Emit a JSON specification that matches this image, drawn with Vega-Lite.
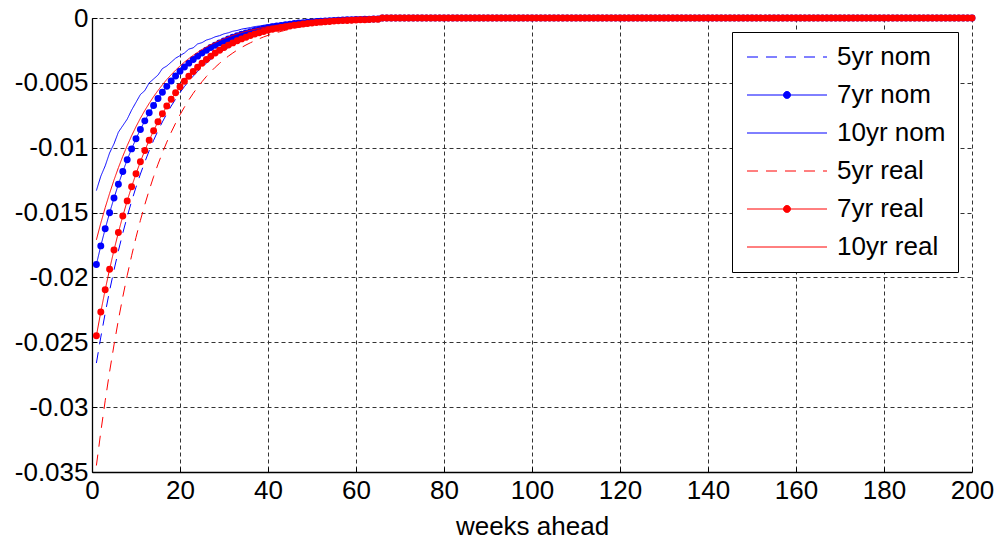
{
  "$schema": "https://vega.github.io/schema/vega-lite/v6.json",
  "width": 880,
  "height": 454,
  "autosize": "none",
  "padding": {"left": 92, "top": 18, "right": 26, "bottom": 72},
  "background": "white",
  "config": {
    "view": {"stroke": null},
    "font": "Liberation Sans",
    "axis": {
      "labelFont": "Liberation Sans", "labelFontSize": 26, "labelColor": "black",
      "titleFont": "Liberation Sans", "titleFontSize": 26, "titleFontWeight": "normal", "titleColor": "black",
      "domainColor": "black", "domainWidth": 1.3, "tickColor": "black", "tickSize": -5, "tickWidth": 1,
      "gridColor": "#333333", "gridDash": [4, 3], "gridWidth": 1, "gridOpacity": 1
    },
    "legend": {
      "labelFont": "Liberation Sans", "labelFontSize": 26, "labelColor": "black",
      "strokeColor": "black", "fillColor": "white", "padding": 12, "rowPadding": 12,
      "labelOffset": 67, "cornerRadius": 0
    }
  },
  "data": {"values": [
    {"w":1,"a":-0.0266,"b":-0.019,"c":-0.0133,"d":-0.0345,"e":-0.0245,"f":-0.0171},
    {"w":2,"a":-0.0246,"b":-0.01757,"c":-0.0122,"d":-0.03191,"e":-0.02266,"f":-0.01581},
    {"w":3,"a":-0.02275,"b":-0.01625,"c":-0.0114,"d":-0.0295,"e":-0.02095,"f":-0.01462},
    {"w":4,"a":-0.02102,"b":-0.01502,"c":-0.0104,"d":-0.02727,"e":-0.01937,"f":-0.01352},
    {"w":5,"a":-0.01943,"b":-0.01388,"c":-0.0097,"d":-0.0252,"e":-0.01789,"f":-0.01249},
    {"w":6,"a":-0.01795,"b":-0.01282,"c":-0.0088,"d":-0.02328,"e":-0.01653,"f":-0.01154},
    {"w":7,"a":-0.01658,"b":-0.01184,"c":-0.0083,"d":-0.0215,"e":-0.01527,"f":-0.01066},
    {"w":8,"a":-0.01531,"b":-0.01093,"c":-0.0078,"d":-0.01985,"e":-0.0141,"f":-0.00984},
    {"w":9,"a":-0.01413,"b":-0.01009,"c":-0.0071,"d":-0.01833,"e":-0.01301,"f":-0.00908},
    {"w":10,"a":-0.01304,"b":-0.00931,"c":-0.0065,"d":-0.01691,"e":-0.01201,"f":-0.00838},
    {"w":11,"a":-0.01203,"b":-0.00859,"c":-0.0059,"d":-0.0156,"e":-0.01108,"f":-0.00773},
    {"w":12,"a":-0.0111,"b":-0.00793,"c":-0.0056,"d":-0.01439,"e":-0.01022,"f":-0.00713},
    {"w":13,"a":-0.01023,"b":-0.00731,"c":-0.005,"d":-0.01327,"e":-0.00942,"f":-0.00658},
    {"w":14,"a":-0.00943,"b":-0.00674,"c":-0.0047,"d":-0.01223,"e":-0.00869,"f":-0.00606},
    {"w":15,"a":-0.00869,"b":-0.00621,"c":-0.0044,"d":-0.01127,"e":-0.008,"f":-0.00559},
    {"w":16,"a":-0.00801,"b":-0.00572,"c":-0.0039,"d":-0.01039,"e":-0.00738,"f":-0.00515},
    {"w":17,"a":-0.00738,"b":-0.00527,"c":-0.0037,"d":-0.00957,"e":-0.00679,"f":-0.00474},
    {"w":18,"a":-0.00679,"b":-0.00485,"c":-0.0034,"d":-0.00881,"e":-0.00626,"f":-0.00437},
    {"w":19,"a":-0.00625,"b":-0.00447,"c":-0.0031,"d":-0.00811,"e":-0.00576,"f":-0.00402},
    {"w":20,"a":-0.00575,"b":-0.00411,"c":-0.0029,"d":-0.00746,"e":-0.0053,"f":-0.0037},
    {"w":21,"a":-0.00529,"b":-0.00378,"c":-0.0027,"d":-0.00687,"e":-0.00488,"f":-0.0034},
    {"w":22,"a":-0.00487,"b":-0.00348,"c":-0.0024,"d":-0.00632,"e":-0.00449,"f":-0.00313},
    {"w":23,"a":-0.00448,"b":-0.0032,"c":-0.0023,"d":-0.00581,"e":-0.00412,"f":-0.00288},
    {"w":24,"a":-0.00412,"b":-0.00294,"c":-0.002,"d":-0.00534,"e":-0.00379,"f":-0.00265},
    {"w":25,"a":-0.00378,"b":-0.0027,"c":-0.0019,"d":-0.00491,"e":-0.00349,"f":-0.00243},
    {"w":26,"a":-0.00348,"b":-0.00248,"c":-0.0017,"d":-0.00451,"e":-0.0032,"f":-0.00224},
    {"w":27,"a":-0.00319,"b":-0.00228,"c":-0.0016,"d":-0.00414,"e":-0.00294,"f":-0.00205},
    {"w":28,"a":-0.00293,"b":-0.0021,"c":-0.00145,"d":-0.0038,"e":-0.0027,"f":-0.00189},
    {"w":29,"a":-0.00269,"b":-0.00192,"c":-0.00136,"d":-0.00349,"e":-0.00248,"f":-0.00173},
    {"w":30,"a":-0.00247,"b":-0.00177,"c":-0.00122,"d":-0.00321,"e":-0.00228,"f":-0.00159},
    {"w":31,"a":-0.00227,"b":-0.00162,"c":-0.00114,"d":-0.00294,"e":-0.00209,"f":-0.00146},
    {"w":32,"a":-0.00208,"b":-0.00149,"c":-0.00102,"d":-0.0027,"e":-0.00192,"f":-0.00134},
    {"w":33,"a":-0.00191,"b":-0.00136,"c":-0.00096,"d":-0.00247,"e":-0.00176,"f":-0.00123},
    {"w":34,"a":-0.00175,"b":-0.00125,"c":-0.00086,"d":-0.00227,"e":-0.00161,"f":-0.00112},
    {"w":35,"a":-0.0016,"b":-0.00115,"c":-0.0008,"d":-0.00208,"e":-0.00148,"f":-0.00103},
    {"w":36,"a":-0.00147,"b":-0.00105,"c":-0.00074,"d":-0.00191,"e":-0.00135,"f":-0.00094},
    {"w":37,"a":-0.00135,"b":-0.00096,"c":-0.00066,"d":-0.00175,"e":-0.00124,"f":-0.00087},
    {"w":38,"a":-0.00123,"b":-0.00088,"c":-0.00062,"d":-0.0016,"e":-0.00114,"f":-0.00079},
    {"w":39,"a":-0.00113,"b":-0.00081,"c":-0.00056,"d":-0.00146,"e":-0.00104,"f":-0.00073},
    {"w":40,"a":-0.00103,"b":-0.00074,"c":-0.00051,"d":-0.00134,"e":-0.00095,"f":-0.00066},
    {"w":41,"a":-0.00095,"b":-0.00068,"c":-0.00047,"d":-0.00123,"e":-0.00087,"f":-0.00061},
    {"w":42,"a":-0.00087,"b":-0.00062,"c":-0.00043,"d":-0.00112,"e":-0.0008,"f":-0.00056},
    {"w":43,"a":-0.00079,"b":-0.00057,"c":-0.0004,"d":-0.00103,"e":-0.00073,"f":-0.00051},
    {"w":44,"a":-0.00072,"b":-0.00052,"c":-0.00036,"d":-0.00094,"e":-0.00067,"f":-0.00047},
    {"w":45,"a":-0.00066,"b":-0.00047,"c":-0.00033,"d":-0.00086,"e":-0.00061,"f":-0.00043},
    {"w":46,"a":-0.0006,"b":-0.00043,"c":-0.0003,"d":-0.00078,"e":-0.00056,"f":-0.00039},
    {"w":47,"a":-0.00055,"b":-0.00039,"c":-0.00028,"d":-0.00072,"e":-0.00051,"f":-0.00036},
    {"w":48,"a":-0.0005,"b":-0.00036,"c":-0.00025,"d":-0.00065,"e":-0.00046,"f":-0.00032},
    {"w":49,"a":-0.00046,"b":-0.00033,"c":-0.00023,"d":-0.0006,"e":-0.00042,"f":-0.0003},
    {"w":50,"a":-0.00042,"b":-0.0003,"c":-0.00021,"d":-0.00055,"e":-0.00039,"f":-0.00027},
    {"w":51,"a":-0.00038,"b":-0.00027,"c":-0.00019,"d":-0.0005,"e":-0.00035,"f":-0.00025},
    {"w":52,"a":-0.00035,"b":-0.00025,"c":-0.00018,"d":-0.00045,"e":-0.00032,"f":-0.00023},
    {"w":53,"a":-0.00032,"b":-0.00023,"c":-0.00016,"d":-0.00041,"e":-0.00029,"f":-0.00021},
    {"w":54,"a":-0.00029,"b":-0.00021,"c":-0.00015,"d":-0.00038,"e":-0.00027,"f":-0.00019},
    {"w":55,"a":-0.00027,"b":-0.00019,"c":-0.00013,"d":-0.00034,"e":-0.00024,"f":-0.00017},
    {"w":56,"a":-0.00024,"b":-0.00017,"c":-0.00012,"d":-0.00031,"e":-0.00022,"f":-0.00016},
    {"w":57,"a":-0.00022,"b":-0.00016,"c":-0.00011,"d":-0.00029,"e":-0.0002,"f":-0.00014},
    {"w":58,"a":-0.0002,"b":-0.00014,"c":-0.0001,"d":-0.00026,"e":-0.00019,"f":-0.00013},
    {"w":59,"a":-0.00018,"b":-0.00013,"c":-0.00009,"d":-0.00024,"e":-0.00017,"f":-0.00012},
    {"w":60,"a":-0.00017,"b":-0.00012,"c":-0.00008,"d":-0.00022,"e":-0.00015,"f":-0.00011},
    {"w":61,"a":-0.00015,"b":-0.00011,"c":-0.00008,"d":-0.0002,"e":-0.00014,"f":-0.0001},
    {"w":62,"a":-0.00014,"b":-0.0001,"c":-0.00007,"d":-0.00018,"e":-0.00013,"f":-0.00009},
    {"w":63,"a":-0.00012,"b":-0.00009,"c":-0.00006,"d":-0.00016,"e":-0.00011,"f":-0.00008},
    {"w":64,"a":-0.00011,"b":-0.00008,"c":-0.00006,"d":-0.00015,"e":-0.0001,"f":-0.00007},
    {"w":65,"a":-0.0001,"b":-0.00007,"c":-0.00005,"d":-0.00013,"e":-0.0001,"f":-0.00007},
    {"w":66,"a":0,"b":0,"c":0,"d":0,"e":0,"f":0},
    {"w":67,"a":0,"b":0,"c":0,"d":0,"e":0,"f":0},
    {"w":68,"a":0,"b":0,"c":0,"d":0,"e":0,"f":0},
    {"w":69,"a":0,"b":0,"c":0,"d":0,"e":0,"f":0},
    {"w":70,"a":0,"b":0,"c":0,"d":0,"e":0,"f":0},
    {"w":71,"a":0,"b":0,"c":0,"d":0,"e":0,"f":0},
    {"w":72,"a":0,"b":0,"c":0,"d":0,"e":0,"f":0},
    {"w":73,"a":0,"b":0,"c":0,"d":0,"e":0,"f":0},
    {"w":74,"a":0,"b":0,"c":0,"d":0,"e":0,"f":0},
    {"w":75,"a":0,"b":0,"c":0,"d":0,"e":0,"f":0},
    {"w":76,"a":0,"b":0,"c":0,"d":0,"e":0,"f":0},
    {"w":77,"a":0,"b":0,"c":0,"d":0,"e":0,"f":0},
    {"w":78,"a":0,"b":0,"c":0,"d":0,"e":0,"f":0},
    {"w":79,"a":0,"b":0,"c":0,"d":0,"e":0,"f":0},
    {"w":80,"a":0,"b":0,"c":0,"d":0,"e":0,"f":0},
    {"w":81,"a":0,"b":0,"c":0,"d":0,"e":0,"f":0},
    {"w":82,"a":0,"b":0,"c":0,"d":0,"e":0,"f":0},
    {"w":83,"a":0,"b":0,"c":0,"d":0,"e":0,"f":0},
    {"w":84,"a":0,"b":0,"c":0,"d":0,"e":0,"f":0},
    {"w":85,"a":0,"b":0,"c":0,"d":0,"e":0,"f":0},
    {"w":86,"a":0,"b":0,"c":0,"d":0,"e":0,"f":0},
    {"w":87,"a":0,"b":0,"c":0,"d":0,"e":0,"f":0},
    {"w":88,"a":0,"b":0,"c":0,"d":0,"e":0,"f":0},
    {"w":89,"a":0,"b":0,"c":0,"d":0,"e":0,"f":0},
    {"w":90,"a":0,"b":0,"c":0,"d":0,"e":0,"f":0},
    {"w":91,"a":0,"b":0,"c":0,"d":0,"e":0,"f":0},
    {"w":92,"a":0,"b":0,"c":0,"d":0,"e":0,"f":0},
    {"w":93,"a":0,"b":0,"c":0,"d":0,"e":0,"f":0},
    {"w":94,"a":0,"b":0,"c":0,"d":0,"e":0,"f":0},
    {"w":95,"a":0,"b":0,"c":0,"d":0,"e":0,"f":0},
    {"w":96,"a":0,"b":0,"c":0,"d":0,"e":0,"f":0},
    {"w":97,"a":0,"b":0,"c":0,"d":0,"e":0,"f":0},
    {"w":98,"a":0,"b":0,"c":0,"d":0,"e":0,"f":0},
    {"w":99,"a":0,"b":0,"c":0,"d":0,"e":0,"f":0},
    {"w":100,"a":0,"b":0,"c":0,"d":0,"e":0,"f":0},
    {"w":101,"a":0,"b":0,"c":0,"d":0,"e":0,"f":0},
    {"w":102,"a":0,"b":0,"c":0,"d":0,"e":0,"f":0},
    {"w":103,"a":0,"b":0,"c":0,"d":0,"e":0,"f":0},
    {"w":104,"a":0,"b":0,"c":0,"d":0,"e":0,"f":0},
    {"w":105,"a":0,"b":0,"c":0,"d":0,"e":0,"f":0},
    {"w":106,"a":0,"b":0,"c":0,"d":0,"e":0,"f":0},
    {"w":107,"a":0,"b":0,"c":0,"d":0,"e":0,"f":0},
    {"w":108,"a":0,"b":0,"c":0,"d":0,"e":0,"f":0},
    {"w":109,"a":0,"b":0,"c":0,"d":0,"e":0,"f":0},
    {"w":110,"a":0,"b":0,"c":0,"d":0,"e":0,"f":0},
    {"w":111,"a":0,"b":0,"c":0,"d":0,"e":0,"f":0},
    {"w":112,"a":0,"b":0,"c":0,"d":0,"e":0,"f":0},
    {"w":113,"a":0,"b":0,"c":0,"d":0,"e":0,"f":0},
    {"w":114,"a":0,"b":0,"c":0,"d":0,"e":0,"f":0},
    {"w":115,"a":0,"b":0,"c":0,"d":0,"e":0,"f":0},
    {"w":116,"a":0,"b":0,"c":0,"d":0,"e":0,"f":0},
    {"w":117,"a":0,"b":0,"c":0,"d":0,"e":0,"f":0},
    {"w":118,"a":0,"b":0,"c":0,"d":0,"e":0,"f":0},
    {"w":119,"a":0,"b":0,"c":0,"d":0,"e":0,"f":0},
    {"w":120,"a":0,"b":0,"c":0,"d":0,"e":0,"f":0},
    {"w":121,"a":0,"b":0,"c":0,"d":0,"e":0,"f":0},
    {"w":122,"a":0,"b":0,"c":0,"d":0,"e":0,"f":0},
    {"w":123,"a":0,"b":0,"c":0,"d":0,"e":0,"f":0},
    {"w":124,"a":0,"b":0,"c":0,"d":0,"e":0,"f":0},
    {"w":125,"a":0,"b":0,"c":0,"d":0,"e":0,"f":0},
    {"w":126,"a":0,"b":0,"c":0,"d":0,"e":0,"f":0},
    {"w":127,"a":0,"b":0,"c":0,"d":0,"e":0,"f":0},
    {"w":128,"a":0,"b":0,"c":0,"d":0,"e":0,"f":0},
    {"w":129,"a":0,"b":0,"c":0,"d":0,"e":0,"f":0},
    {"w":130,"a":0,"b":0,"c":0,"d":0,"e":0,"f":0},
    {"w":131,"a":0,"b":0,"c":0,"d":0,"e":0,"f":0},
    {"w":132,"a":0,"b":0,"c":0,"d":0,"e":0,"f":0},
    {"w":133,"a":0,"b":0,"c":0,"d":0,"e":0,"f":0},
    {"w":134,"a":0,"b":0,"c":0,"d":0,"e":0,"f":0},
    {"w":135,"a":0,"b":0,"c":0,"d":0,"e":0,"f":0},
    {"w":136,"a":0,"b":0,"c":0,"d":0,"e":0,"f":0},
    {"w":137,"a":0,"b":0,"c":0,"d":0,"e":0,"f":0},
    {"w":138,"a":0,"b":0,"c":0,"d":0,"e":0,"f":0},
    {"w":139,"a":0,"b":0,"c":0,"d":0,"e":0,"f":0},
    {"w":140,"a":0,"b":0,"c":0,"d":0,"e":0,"f":0},
    {"w":141,"a":0,"b":0,"c":0,"d":0,"e":0,"f":0},
    {"w":142,"a":0,"b":0,"c":0,"d":0,"e":0,"f":0},
    {"w":143,"a":0,"b":0,"c":0,"d":0,"e":0,"f":0},
    {"w":144,"a":0,"b":0,"c":0,"d":0,"e":0,"f":0},
    {"w":145,"a":0,"b":0,"c":0,"d":0,"e":0,"f":0},
    {"w":146,"a":0,"b":0,"c":0,"d":0,"e":0,"f":0},
    {"w":147,"a":0,"b":0,"c":0,"d":0,"e":0,"f":0},
    {"w":148,"a":0,"b":0,"c":0,"d":0,"e":0,"f":0},
    {"w":149,"a":0,"b":0,"c":0,"d":0,"e":0,"f":0},
    {"w":150,"a":0,"b":0,"c":0,"d":0,"e":0,"f":0},
    {"w":151,"a":0,"b":0,"c":0,"d":0,"e":0,"f":0},
    {"w":152,"a":0,"b":0,"c":0,"d":0,"e":0,"f":0},
    {"w":153,"a":0,"b":0,"c":0,"d":0,"e":0,"f":0},
    {"w":154,"a":0,"b":0,"c":0,"d":0,"e":0,"f":0},
    {"w":155,"a":0,"b":0,"c":0,"d":0,"e":0,"f":0},
    {"w":156,"a":0,"b":0,"c":0,"d":0,"e":0,"f":0},
    {"w":157,"a":0,"b":0,"c":0,"d":0,"e":0,"f":0},
    {"w":158,"a":0,"b":0,"c":0,"d":0,"e":0,"f":0},
    {"w":159,"a":0,"b":0,"c":0,"d":0,"e":0,"f":0},
    {"w":160,"a":0,"b":0,"c":0,"d":0,"e":0,"f":0},
    {"w":161,"a":0,"b":0,"c":0,"d":0,"e":0,"f":0},
    {"w":162,"a":0,"b":0,"c":0,"d":0,"e":0,"f":0},
    {"w":163,"a":0,"b":0,"c":0,"d":0,"e":0,"f":0},
    {"w":164,"a":0,"b":0,"c":0,"d":0,"e":0,"f":0},
    {"w":165,"a":0,"b":0,"c":0,"d":0,"e":0,"f":0},
    {"w":166,"a":0,"b":0,"c":0,"d":0,"e":0,"f":0},
    {"w":167,"a":0,"b":0,"c":0,"d":0,"e":0,"f":0},
    {"w":168,"a":0,"b":0,"c":0,"d":0,"e":0,"f":0},
    {"w":169,"a":0,"b":0,"c":0,"d":0,"e":0,"f":0},
    {"w":170,"a":0,"b":0,"c":0,"d":0,"e":0,"f":0},
    {"w":171,"a":0,"b":0,"c":0,"d":0,"e":0,"f":0},
    {"w":172,"a":0,"b":0,"c":0,"d":0,"e":0,"f":0},
    {"w":173,"a":0,"b":0,"c":0,"d":0,"e":0,"f":0},
    {"w":174,"a":0,"b":0,"c":0,"d":0,"e":0,"f":0},
    {"w":175,"a":0,"b":0,"c":0,"d":0,"e":0,"f":0},
    {"w":176,"a":0,"b":0,"c":0,"d":0,"e":0,"f":0},
    {"w":177,"a":0,"b":0,"c":0,"d":0,"e":0,"f":0},
    {"w":178,"a":0,"b":0,"c":0,"d":0,"e":0,"f":0},
    {"w":179,"a":0,"b":0,"c":0,"d":0,"e":0,"f":0},
    {"w":180,"a":0,"b":0,"c":0,"d":0,"e":0,"f":0},
    {"w":181,"a":0,"b":0,"c":0,"d":0,"e":0,"f":0},
    {"w":182,"a":0,"b":0,"c":0,"d":0,"e":0,"f":0},
    {"w":183,"a":0,"b":0,"c":0,"d":0,"e":0,"f":0},
    {"w":184,"a":0,"b":0,"c":0,"d":0,"e":0,"f":0},
    {"w":185,"a":0,"b":0,"c":0,"d":0,"e":0,"f":0},
    {"w":186,"a":0,"b":0,"c":0,"d":0,"e":0,"f":0},
    {"w":187,"a":0,"b":0,"c":0,"d":0,"e":0,"f":0},
    {"w":188,"a":0,"b":0,"c":0,"d":0,"e":0,"f":0},
    {"w":189,"a":0,"b":0,"c":0,"d":0,"e":0,"f":0},
    {"w":190,"a":0,"b":0,"c":0,"d":0,"e":0,"f":0},
    {"w":191,"a":0,"b":0,"c":0,"d":0,"e":0,"f":0},
    {"w":192,"a":0,"b":0,"c":0,"d":0,"e":0,"f":0},
    {"w":193,"a":0,"b":0,"c":0,"d":0,"e":0,"f":0},
    {"w":194,"a":0,"b":0,"c":0,"d":0,"e":0,"f":0},
    {"w":195,"a":0,"b":0,"c":0,"d":0,"e":0,"f":0},
    {"w":196,"a":0,"b":0,"c":0,"d":0,"e":0,"f":0},
    {"w":197,"a":0,"b":0,"c":0,"d":0,"e":0,"f":0},
    {"w":198,"a":0,"b":0,"c":0,"d":0,"e":0,"f":0},
    {"w":199,"a":0,"b":0,"c":0,"d":0,"e":0,"f":0},
    {"w":200,"a":0,"b":0,"c":0,"d":0,"e":0,"f":0}
  ]},
  "transform": [{"fold": ["a", "b", "c", "d", "e", "f"], "as": ["key", "value"]}],
  "layer": [
    {
      "transform": [{"filter": {"field": "key", "oneOf": ["a", "b", "c"]}}],
      "mark": {"type": "line", "strokeWidth": 1},
      "encoding": {
        "x": {"field": "w", "type": "quantitative", "scale": {"domain": [0, 200], "nice": false},
              "axis": {"orient": "bottom", "values": [0,20,40,60,80,100,120,140,160,180,200], "grid": true,
                       "labelPadding": 10, "title": "weeks ahead", "titlePadding": 10, "labelFlush": false}},
        "y": {"field": "value", "type": "quantitative", "scale": {"domain": [-0.035, 0], "nice": false, "zero": false},
              "axis": {"orient": "left", "values": [0,-0.005,-0.01,-0.015,-0.02,-0.025,-0.03,-0.035], "grid": true,
                       "format": ".3~f", "labelExpr": "replace(datum.label, '−', '-')",
                       "labelPadding": 9, "title": null, "labelFlush": false}},
        "color": {"field": "key", "type": "nominal",
                  "scale": {"domain": ["a","b","c","d","e","f"], "range": ["#0000ff","#0000ff","#0000ff","#ff0000","#ff0000","#ff0000"]},
                  "legend": {"title": null, "orient": "top-right", "offset": 14, "symbolType": "M-1,0H7", "symbolSize": 400, "symbolStrokeWidth": 1,
                             "labelExpr": "datum.label=='a'?'5yr nom':datum.label=='b'?'7yr nom':datum.label=='c'?'10yr nom':datum.label=='d'?'5yr real':datum.label=='e'?'7yr real':'10yr real'",
                             "encode": {"symbols": {"update": {
                               "shape": {"signal": "(datum.value=='b'||datum.value=='e')?'M-1,0H7M2.65,0A0.35,0.35 0 1,0 3.35,0A0.35,0.35 0 1,0 2.65,0Z':'M-1,0H7'"},
                               "fill": {"signal": "datum.value=='b'?'#0000ff':datum.value=='e'?'#ff0000':'transparent'"}}}}}},
        "strokeDash": {"field": "key", "type": "nominal",
                       "scale": {"domain": ["a","b","c","d","e","f"], "range": [[11,8],[1,0],[1,0],[11,8],[1,0],[1,0]]},
                       "legend": {"title": null, "orient": "top-right", "offset": 14, "symbolType": "M-1,0H7", "symbolSize": 400, "symbolStrokeWidth": 1,
                             "labelExpr": "datum.label=='a'?'5yr nom':datum.label=='b'?'7yr nom':datum.label=='c'?'10yr nom':datum.label=='d'?'5yr real':datum.label=='e'?'7yr real':'10yr real'",
                             "encode": {"symbols": {"update": {
                               "shape": {"signal": "(datum.value=='b'||datum.value=='e')?'M-1,0H7M2.65,0A0.35,0.35 0 1,0 3.35,0A0.35,0.35 0 1,0 2.65,0Z':'M-1,0H7'"},
                               "fill": {"signal": "datum.value=='b'?'#0000ff':datum.value=='e'?'#ff0000':'transparent'"}}}}}}
      }
    },
    {
      "transform": [{"filter": {"field": "key", "equal": "b"}}],
      "mark": {"type": "point", "filled": true, "size": 48, "color": "#0000ff", "opacity": 1},
      "encoding": {
        "x": {"field": "w", "type": "quantitative", "scale": {"domain": [0, 200], "nice": false}},
        "y": {"field": "value", "type": "quantitative", "scale": {"domain": [-0.035, 0], "nice": false, "zero": false}}
      }
    },
    {
      "transform": [{"filter": {"field": "key", "oneOf": ["d", "e", "f"]}}],
      "mark": {"type": "line", "strokeWidth": 1},
      "encoding": {
        "x": {"field": "w", "type": "quantitative", "scale": {"domain": [0, 200], "nice": false}},
        "y": {"field": "value", "type": "quantitative", "scale": {"domain": [-0.035, 0], "nice": false, "zero": false}},
        "color": {"field": "key", "type": "nominal",
                  "scale": {"domain": ["a","b","c","d","e","f"], "range": ["#0000ff","#0000ff","#0000ff","#ff0000","#ff0000","#ff0000"]},
                  "legend": {"title": null, "orient": "top-right", "offset": 14, "symbolType": "M-1,0H7", "symbolSize": 400, "symbolStrokeWidth": 1,
                             "labelExpr": "datum.label=='a'?'5yr nom':datum.label=='b'?'7yr nom':datum.label=='c'?'10yr nom':datum.label=='d'?'5yr real':datum.label=='e'?'7yr real':'10yr real'",
                             "encode": {"symbols": {"update": {
                               "shape": {"signal": "(datum.value=='b'||datum.value=='e')?'M-1,0H7M2.65,0A0.35,0.35 0 1,0 3.35,0A0.35,0.35 0 1,0 2.65,0Z':'M-1,0H7'"},
                               "fill": {"signal": "datum.value=='b'?'#0000ff':datum.value=='e'?'#ff0000':'transparent'"}}}}}},
        "strokeDash": {"field": "key", "type": "nominal",
                       "scale": {"domain": ["a","b","c","d","e","f"], "range": [[11,8],[1,0],[1,0],[11,8],[1,0],[1,0]]},
                       "legend": {"title": null, "orient": "top-right", "offset": 14, "symbolType": "M-1,0H7", "symbolSize": 400, "symbolStrokeWidth": 1,
                             "labelExpr": "datum.label=='a'?'5yr nom':datum.label=='b'?'7yr nom':datum.label=='c'?'10yr nom':datum.label=='d'?'5yr real':datum.label=='e'?'7yr real':'10yr real'",
                             "encode": {"symbols": {"update": {
                               "shape": {"signal": "(datum.value=='b'||datum.value=='e')?'M-1,0H7M2.65,0A0.35,0.35 0 1,0 3.35,0A0.35,0.35 0 1,0 2.65,0Z':'M-1,0H7'"},
                               "fill": {"signal": "datum.value=='b'?'#0000ff':datum.value=='e'?'#ff0000':'transparent'"}}}}}}
      }
    },
    {
      "transform": [{"filter": {"field": "key", "equal": "e"}}],
      "mark": {"type": "point", "filled": true, "size": 48, "color": "#ff0000", "opacity": 1},
      "encoding": {
        "x": {"field": "w", "type": "quantitative", "scale": {"domain": [0, 200], "nice": false}},
        "y": {"field": "value", "type": "quantitative", "scale": {"domain": [-0.035, 0], "nice": false, "zero": false}}
      }
    }
  ]
}
